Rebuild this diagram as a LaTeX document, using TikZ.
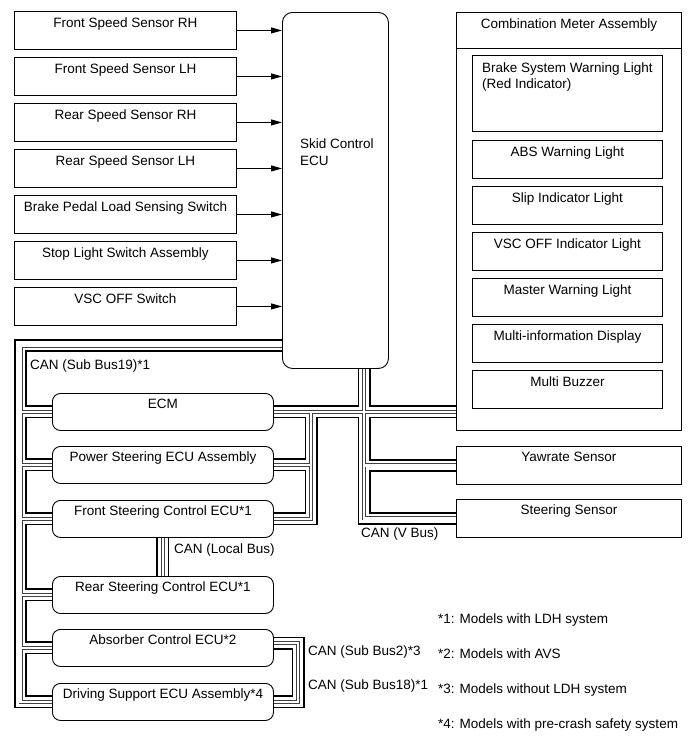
\documentclass[tikz,border=0pt]{standalone}
\usepackage{fontspec}
\setmainfont{Liberation Sans}
\usetikzlibrary{arrows.meta,backgrounds}

% the CAN lines, drawn once per pass so that junctions merge
\newcommand{\canlines}[1]{%
  % sub bus 19, left side
  \draw[#1] (sce.west |- 0,345.5) -| (drv.west -| 20.5,0) -- (drv.west);
  \foreach \e in {ecm,pse,fsc,rsc,abs}
    \draw[#1] (\e.west -| 20.5,0) -- (\e.west);
  % V bus
  \draw[#1] (sce.south -| 364,0) -- (ste.west -| 364,0) -- (ste.west);
  \draw[#1] (ecm.east) -- (ecm.east -| cmb.west);
  \draw[#1] (yaw.west -| 364,0) -- (yaw.west);
  \draw[#1] (ecm.east -| 311,0) -- (fsc.east -| 311,0) -- (fsc.east);
  \draw[#1] (pse.east -| 311,0) -- (pse.east);
  % local bus
  \draw[#1] (fsc.south) -- (rsc.north);
  % sub bus 2 / 18
  \draw[#1] (abs.east |- 0,643) -| (drv.east -| 298,0) -- (drv.east);
}

\begin{document}
\begin{tikzpicture}[
    x=1pt, y=-1pt,
    every node/.style={font=\fontsize{13.5}{17}\selectfont},
    box/.style={draw=black, line width=0.9pt, fill=white, anchor=north west, inner sep=0pt,
      minimum width=222pt, minimum height=38pt, text height=16pt, text depth=22pt},
    ecu/.style={box, rounded corners=8pt, minimum width=221pt, minimum height=37pt,
      text height=15pt, text depth=22pt},
    lamp/.style={box, minimum width=190pt},
    unit/.style={box, minimum width=225pt, text height=15pt, text depth=23pt},
    note/.style={anchor=base west, inner sep=0pt},
    arr/.style={-{Triangle[length=11pt,width=6pt]}, line width=1pt},
    busa/.style={line width=13pt, black},
    busb/.style={line width=9.8pt, white},
    busc/.style={line width=4pt, black!75},
    busd/.style={line width=2.4pt, white}
  ]
  \useasboundingbox (0,0) rectangle (689,756);

  % inputs
  \node[box] (fsrh) at (14,11) {Front Speed Sensor RH};
  \node[box] (fslh) at (14,57) {Front Speed Sensor LH};
  \node[box] (rsrh) at (14,103) {Rear Speed Sensor RH};
  \node[box] (rslh) at (14,149) {Rear Speed Sensor LH};
  \node[box] (bpsw) at (14,195) {Brake Pedal Load Sensing Switch};
  \node[box] (stsw) at (14,241) {Stop Light Switch Assembly};
  \node[box] (vsw) at (14,287) {VSC OFF Switch};

  % skid control ECU
  \node[box, rounded corners=10pt, minimum width=106pt, minimum height=356pt] (sce) at (282,12) {};
  \node[anchor=north west, align=left, inner sep=0pt] (sceT) at (300,138.3) {Skid Control\\ECU};

  % combination meter
  \node[unit, minimum height=418pt, text height=16pt, text depth=402pt] (cmb) at (456,12) {Combination Meter Assembly};
  \draw[line width=0.9pt] (cmb.west |- 0,48) -- (cmb.east |- 0,48);
  \node[lamp, minimum height=76pt] (bswl) at (472,55) {};
  \node[anchor=north west, align=left, inner sep=0pt,
    font=\fontsize{13.5}{16.5}\selectfont] (bswlT) at (482,62.3) {Brake System Warning Light\\(Red Indicator)};
  \node[lamp] (absl) at (472,140) {ABS Warning Light};
  \node[lamp] (slip) at (472,186) {Slip Indicator Light};
  \node[lamp] (vscl) at (472,232) {VSC OFF Indicator Light};
  \node[lamp] (mwl) at (472,278) {Master Warning Light};
  \node[lamp] (mid) at (472,324) {Multi-information Display};
  \node[lamp] (buz) at (472,370) {Multi Buzzer};

  % ECUs on the bus
  \node[ecu] (ecm) at (52,393) {ECM};
  \node[ecu] (pse) at (52,446) {Power Steering ECU Assembly};
  \node[ecu] (fsc) at (52,500) {Front Steering Control ECU*1};
  \node[ecu] (rsc) at (52,576) {Rear Steering Control ECU*1};
  \node[ecu] (abs) at (52,629) {Absorber Control ECU*2};
  \node[ecu] (drv) at (52,683) {Driving Support ECU Assembly*4};
  \node[unit] (yaw) at (456,446) {Yawrate Sensor};
  \node[unit] (ste) at (456,499) {Steering Sensor};

  \draw[arr] (fsrh.east) -- (fsrh.east -| sce.west);
  \draw[arr] (fslh.east) -- (fslh.east -| sce.west);
  \draw[arr] (rsrh.east) -- (rsrh.east -| sce.west);
  \draw[arr] (rslh.east) -- (rslh.east -| sce.west);
  \draw[arr] (bpsw.east) -- (bpsw.east -| sce.west);
  \draw[arr] (stsw.east) -- (stsw.east -| sce.west);
  \draw[arr] (vsw.east) -- (vsw.east -| sce.west);

  \begin{scope}[on background layer]
    \canlines{busa}
    \canlines{busb}
    \canlines{busc}
    \canlines{busd}
  \end{scope}

  % bus names
  \node[note] (sb19) at (30,369) {CAN (Sub Bus19)*1};
  \node[note] (lcl) at (174,553) {CAN (Local Bus)};
  \node[note] (vbus) at (361,537) {CAN (V Bus)};
  \node[note] (sb2) at (308,655) {CAN (Sub Bus2)*3};
  \node[note] (sb18) at (308,689) {CAN (Sub Bus18)*1};

  % footnotes
  \node[note] (n1) at (438,623) {*1: Models with LDH system};
  \node[note] (n2) at (438,658) {*2: Models with AVS};
  \node[note] (n3) at (438,693) {*3: Models without LDH system};
  \node[note] (n4) at (438,728) {*4: Models with pre-crash safety system};
\end{tikzpicture}
\end{document}
